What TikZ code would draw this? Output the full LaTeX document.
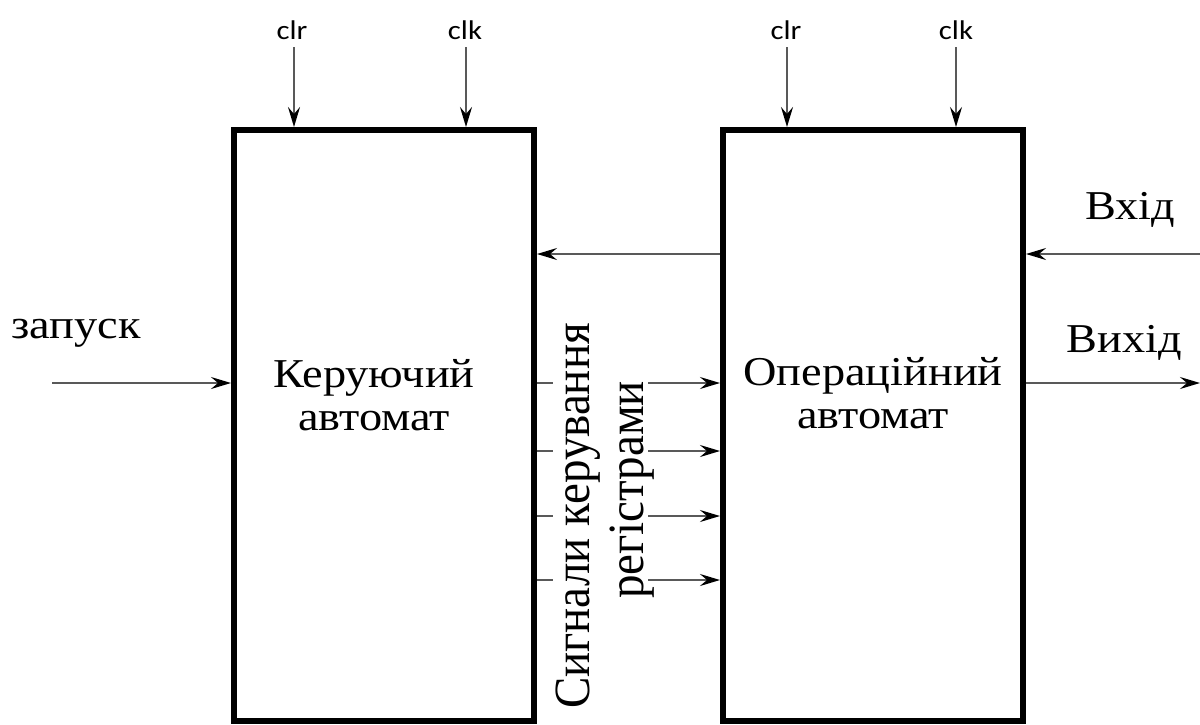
\documentclass[tikz,border=0pt]{standalone}
\usepackage{fontspec}
\setmainfont{Liberation Serif}
\newfontfamily\clkfont{Carlito}
\usetikzlibrary{arrows.meta}
\tikzset{
  block/.style={draw, line width=6pt, minimum width=300pt, minimum height=591pt, inner sep=0pt},
  sig/.style={draw=black!65, line width=2pt, -{Stealth[length=20pt,width=12pt,inset=7pt,black]}},
  tick/.style={draw=black!65, line width=2pt},
  lbl/.style={font=\fontsize{41}{45}\selectfont, inner sep=0pt, xscale=1.13},
  vlbl/.style={font=\fontsize{47}{50}\selectfont, inner sep=0pt, xscale=1.08, rotate=90},
  small/.style={font=\clkfont\fontsize{27}{29}\selectfont, inner sep=0pt, xscale=1.14},
}
\begin{document}
\begin{tikzpicture}[x=1pt,y=-1pt]
\useasboundingbox (0,0) rectangle (1200,724);
\node[block] (ka) at (384,425.5) {};
\node[block] (oa) at (873,425.5) {};
\node[lbl, align=center] (kat) at (374,395) {Керуючий\\[-2pt]автомат};
\node[lbl, align=center] (oat) at (873,393) {Операційний\\[-2pt]автомат};
% clr / clk
\node[small] (clr1) at (292,30) {clr};
\node[small] (clk1) at (465,30) {clk};
\node[small] (clr2) at (786,30) {clr};
\node[small] (clk2) at (956,30) {clk};
\coordinate (c1) at (294,47);
\coordinate (c2) at (466,47);
\coordinate (c3) at (787,47);
\coordinate (c4) at (956,47);
\draw[sig] (c1) -- (c1 |- ka.north);
\draw[sig] (c2) -- (c2 |- ka.north);
\draw[sig] (c3) -- (c3 |- oa.north);
\draw[sig] (c4) -- (c4 |- oa.north);
% feedback
\coordinate (fb) at (700,254);
\draw[sig] (fb -| oa.west) -- (fb -| ka.east);
% inputs / outputs
\coordinate (inp) at (1200,254);
\coordinate (outp) at (1200,383);
\coordinate (start) at (52,383);
\draw[sig] (inp) -- (inp -| oa.east);
\draw[sig] (outp -| oa.east) -- (outp);
\draw[sig] (start) -- (start -| ka.west);
\node[lbl] (vhid) at (1130,210) {Вхід};
\node[lbl] (vyhid) at (1124,343) {Вихід};
\node[lbl] (zap) at (76,333) {запуск};
% control signals
\foreach \yy/\nm in {383/a,451/b,516/c,580/d}{
  \coordinate (t\nm) at (553,\yy);
  \coordinate (s\nm) at (648,\yy);
  \draw[tick] (t\nm -| ka.east) -- (t\nm);
  \draw[sig] (s\nm) -- (s\nm -| oa.west);
}
\node[vlbl] (sig1) at (578,516) {Сигнали керування};
\node[vlbl] (sig2) at (632,490) {регістрами};
\end{tikzpicture}
\end{document}
